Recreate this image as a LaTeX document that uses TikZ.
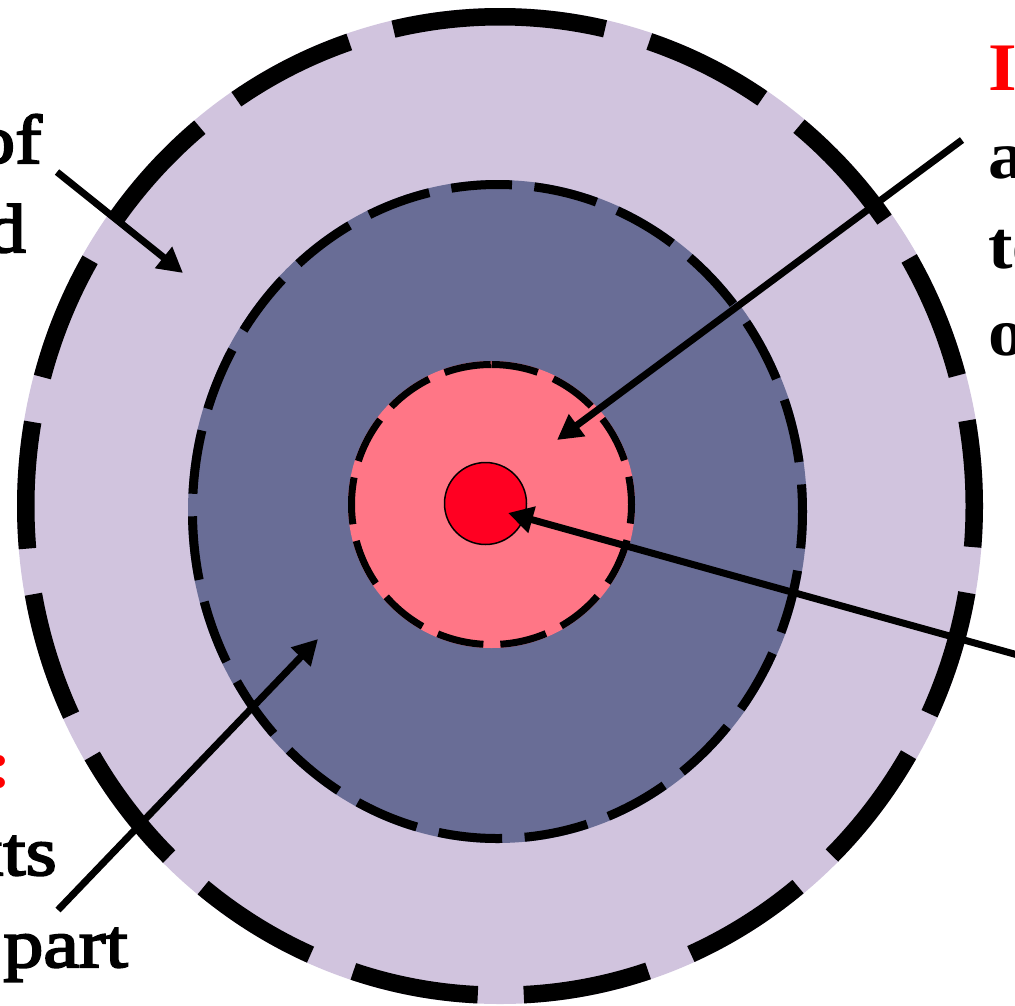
\documentclass[tikz,border=0pt]{standalone}
\usepackage{fontspec}
\setmainfont{Liberation Serif}
\newfontfamily\plainface[FakeStretch=1.16,FakeBold=3]{Liberation Serif}
\newfontfamily\heavyface[FakeStretch=1.08]{Liberation Serif}
\usetikzlibrary{arrows.meta}

\tikzset{
  pointer/.style={line width=7pt, -{Triangle[length=25pt,width=26pt]}},
  sidetext/.style={inner sep=0pt, font=\plainface\fontsize{69}{88}\selectfont},
  boldtext/.style={inner sep=0pt, font=\heavyface\bfseries\fontsize{68}{88}\selectfont}
}

\begin{document}
\begin{tikzpicture}[x=1pt,y=-1pt]
  \colorlet{outerRing}{rgb,255:red,209;green,196;blue,222}
  \colorlet{middleRing}{rgb,255:red,105;green,109;blue,150}
  \colorlet{innerRing}{rgb,255:red,255;green,118;blue,134}
  \colorlet{coreDot}{rgb,255:red,255;green,0;blue,34}
  \useasboundingbox (0,0) rectangle (1015,1005);
  \clip (0,0) rectangle (1015,1005);
  % fills
  \fill[outerRing] (500,506) ellipse [x radius=483, y radius=498];
  \fill[middleRing] (497.5,511.5) ellipse [x radius=309.5, y radius=331.5];
  \fill[innerRing] (491.5,504.5) circle [radius=143.5];
  % dashed rims, each started at the top and run clockwise
  \draw[line width=17.5pt, dash pattern=on 127pt off 46pt, dash phase=21pt]
    (500,506) ++(0,-489.25) arc [start angle=-90, end angle=270, x radius=474.25, y radius=489.25];
  \draw[line width=9pt, dash pattern=on 64pt off 22.5pt, dash phase=49.5pt]
    (497.5,511.5) ++(0,-327) arc [start angle=-90, end angle=270, x radius=305, y radius=327];
  \draw[line width=7pt, dash pattern=on 47pt off 17pt]
    (491.5,504.5) ++(0,-140) arc [start angle=-90, end angle=270, radius=140];
  \draw[fill=coreDot, line width=1.5pt] (485.5,503.5) circle [radius=41];
  % texts
  \node[sidetext, anchor=base east] (leftOf) at (42,163) {of};
  \node[sidetext, anchor=base east] (leftD) at (26,252) {d};
  \node[boldtext, anchor=base east, text=red] (leftColon) at (12,787) {:};
  \node[sidetext, anchor=base east] (leftXts) at (57,875) {xts};
  \node[sidetext, anchor=base east] (leftPart) at (128,967) {part};
  \node[boldtext, anchor=base west, text=red] (rightI) at (988,90) {I};
  \node[boldtext, anchor=base west] (rightA) at (988,178) {a};
  \node[boldtext, anchor=base west] (rightTe) at (988,268) {te};
  \node[boldtext, anchor=base west] (rightO) at (988,355) {o};
  % arrows
  \coordinate (ofTail) at (57,172);
  \coordinate (outerTip) at (183,273);
  \coordinate (aTail) at (962,140);
  \coordinate (innerTip) at (557,440);
  \coordinate (sideTail) at (1025,657);
  \coordinate (coreTip) at (508,513);
  \coordinate (partTail) at (58,910);
  \coordinate (middleTip) at (318,639);
  \draw[pointer] (ofTail) -- (outerTip);
  \draw[pointer] (aTail) -- (innerTip);
  \draw[pointer] (sideTail) -- (coreTip);
  \draw[pointer] (partTail) -- (middleTip);
\end{tikzpicture}
\end{document}
